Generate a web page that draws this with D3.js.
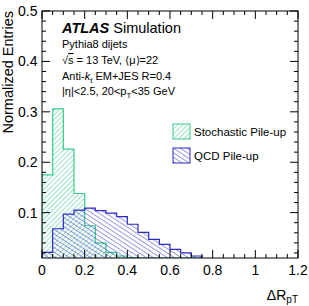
<!DOCTYPE html>
<html><head><meta charset="utf-8">
<script src="https://cdn.jsdelivr.net/npm/d3@7"></script>
<style>body{margin:0;background:#fff}svg{display:block;font-family:"Liberation Sans",Arial,sans-serif}</style>
</head><body><svg id="c" width="309" height="306"></svg>
<script>
const binEdges = [0,0.05,0.1,0.15,0.2,0.25,0.3,0.35,0.4,0.45,0.5,0.55,0.6,0.65,0.7,0.75];
const stochastic = [0.175,0.306,0.226,0.138,0.074,0.040,0.021,0.014,0.011,0.010,0.010,0.010,0.010,0.010,0.010];
const qcd = [0.021,0.068,0.097,0.105,0.109,0.104,0.099,0.092,0.077,0.061,0.047,0.037,0.027,0.020,0.014];
const xTicks = [0,0.2,0.4,0.6,0.8,1,1.2];
const yTicks = [0.1,0.2,0.3,0.4,0.5];
const seriesNames = ["Stochastic Pile-up","QCD Pile-up"];

const svg = d3.select("#c");
const x = d3.scaleLinear([0,1.2],[42,298]);
const y = d3.scaleLinear([0.01,0.5],[258,11]);

const defs = svg.append("defs");
function hatch(id, color, angle, gap){
  const p = defs.append("pattern").attr("id",id).attr("patternUnits","userSpaceOnUse")
    .attr("width",gap).attr("height",gap).attr("patternTransform",`rotate(${angle})`);
  p.append("line").attr("x1",0).attr("y1",0).attr("x2",0).attr("y2",gap)
    .attr("stroke",color).attr("stroke-width",1);
}
const green = "#38cc8c", blue = "#2b2bc4";
hatch("hg", green, 45, 3.5);
hatch("hb", "#3535cf", -57, 3.8);

svg.append("clipPath").attr("id","clip").append("rect")
  .attr("x",x(0)).attr("y",y(0.5)).attr("width",x(1.2)-x(0)).attr("height",y(0.01)-y(0.5));

function stepPath(vals){
  const p = d3.path();
  p.moveTo(x(binEdges[0]), y(0.01));
  vals.forEach((v,i)=>{ p.lineTo(x(binEdges[i]), y(v)); p.lineTo(x(binEdges[i+1]), y(v)); });
  p.lineTo(x(binEdges[vals.length]), y(0.01));
  return p.toString();
}
const g = svg.append("g").attr("clip-path","url(#clip)");
g.append("path").attr("d", stepPath(stochastic)+"Z").attr("fill","url(#hg)").attr("stroke","none");
g.append("path").attr("d", stepPath(stochastic)).attr("fill","none").attr("stroke",green).attr("stroke-width",1.2);
g.append("path").attr("d", stepPath(qcd)+"Z").attr("fill","url(#hb)").attr("stroke","none");
g.append("path").attr("d", stepPath(qcd)).attr("fill","none").attr("stroke",blue).attr("stroke-width",1.2);

// frame and ticks
const ax = svg.append("g").attr("stroke","#000").attr("stroke-width",1);
ax.append("rect").attr("x",x(0)).attr("y",y(0.5)).attr("width",x(1.2)-x(0)).attr("height",y(0.01)-y(0.5)).attr("fill","none");
const xMinor = d3.range(0,1.2001,0.05);
xMinor.forEach(v=>{
  const major = xTicks.some(t=>Math.abs(t-v)<1e-6);
  const L = major?8:4;
  ax.append("line").attr("x1",x(v)).attr("x2",x(v)).attr("y1",y(0.01)).attr("y2",y(0.01)-L);
  ax.append("line").attr("x1",x(v)).attr("x2",x(v)).attr("y1",y(0.5)).attr("y2",y(0.5)+L);
});
const yMinor = d3.range(0.02,0.5001,0.02);
yMinor.forEach(v=>{
  const major = yTicks.some(t=>Math.abs(t-v)<1e-6);
  const L = major?8:4;
  ax.append("line").attr("y1",y(v)).attr("y2",y(v)).attr("x1",x(0)).attr("x2",x(0)+L);
  ax.append("line").attr("y1",y(v)).attr("y2",y(v)).attr("x1",x(1.2)).attr("x2",x(1.2)-L);
});

svg.append("g").selectAll("text").data(xTicks).join("text")
  .attr("x",d=>x(d)).attr("y",275).attr("text-anchor","middle").attr("font-size",14)
  .text(d=>d3.format("~g")(d));
svg.append("g").selectAll("text").data(yTicks).join("text")
  .attr("x",37.5).attr("y",d=>y(d)+5).attr("text-anchor","end").attr("font-size",14)
  .text(d=>d.toFixed(1));

svg.append("text").attr("transform","translate(13,11) rotate(-90)").attr("text-anchor","end")
  .attr("font-size",14.5).text("Normalized Entries");
const xl = svg.append("text").attr("x",298).attr("y",300).attr("text-anchor","end").attr("font-size",14);
xl.append("tspan").text("ΔR");
xl.append("tspan").attr("font-size",10).attr("dy",3).text("pT");

// annotations
const t1 = svg.append("text").attr("x",62).attr("y",33).attr("font-size",14.5);
t1.append("tspan").attr("font-weight","bold").attr("font-style","italic").text("ATLAS");
t1.append("tspan").text(" Simulation");
svg.append("text").attr("x",62).attr("y",48).attr("font-size",11).text("Pythia8 dijets");
const t3 = svg.append("text").attr("x",62).attr("y",64).attr("font-size",11);
t3.append("tspan").text("√");
t3.append("tspan").attr("text-decoration","overline").text("s");
t3.append("tspan").text(" = 13 TeV, ⟨μ⟩=22");
const t4 = svg.append("text").attr("x",62).attr("y",80).attr("font-size",11);
t4.append("tspan").text("Anti-");
t4.append("tspan").attr("font-style","italic").text("k");
t4.append("tspan").attr("font-size",8).attr("dy",3).text("t");
t4.append("tspan").attr("dy",-3).text(" EM+JES R=0.4");
const t5 = svg.append("text").attr("x",62).attr("y",95).attr("font-size",11);
t5.append("tspan").text("|η|<2.5, 20<p");
t5.append("tspan").attr("font-size",8).attr("dy",3).text("T");
t5.append("tspan").attr("dy",-3).text("<35 GeV");

// legend
const leg = [{name:seriesNames[0],fill:"url(#hg)",stroke:green,y:124},{name:seriesNames[1],fill:"url(#hb)",stroke:blue,y:148}];
leg.forEach(l=>{
  svg.append("rect").attr("x",173).attr("y",l.y).attr("width",17).attr("height",15)
    .attr("fill",l.fill).attr("stroke",l.stroke).attr("stroke-width",1);
  svg.append("text").attr("x",194).attr("y",l.y+12).attr("font-size",11.5).text(l.name);
});
</script></body></html>
